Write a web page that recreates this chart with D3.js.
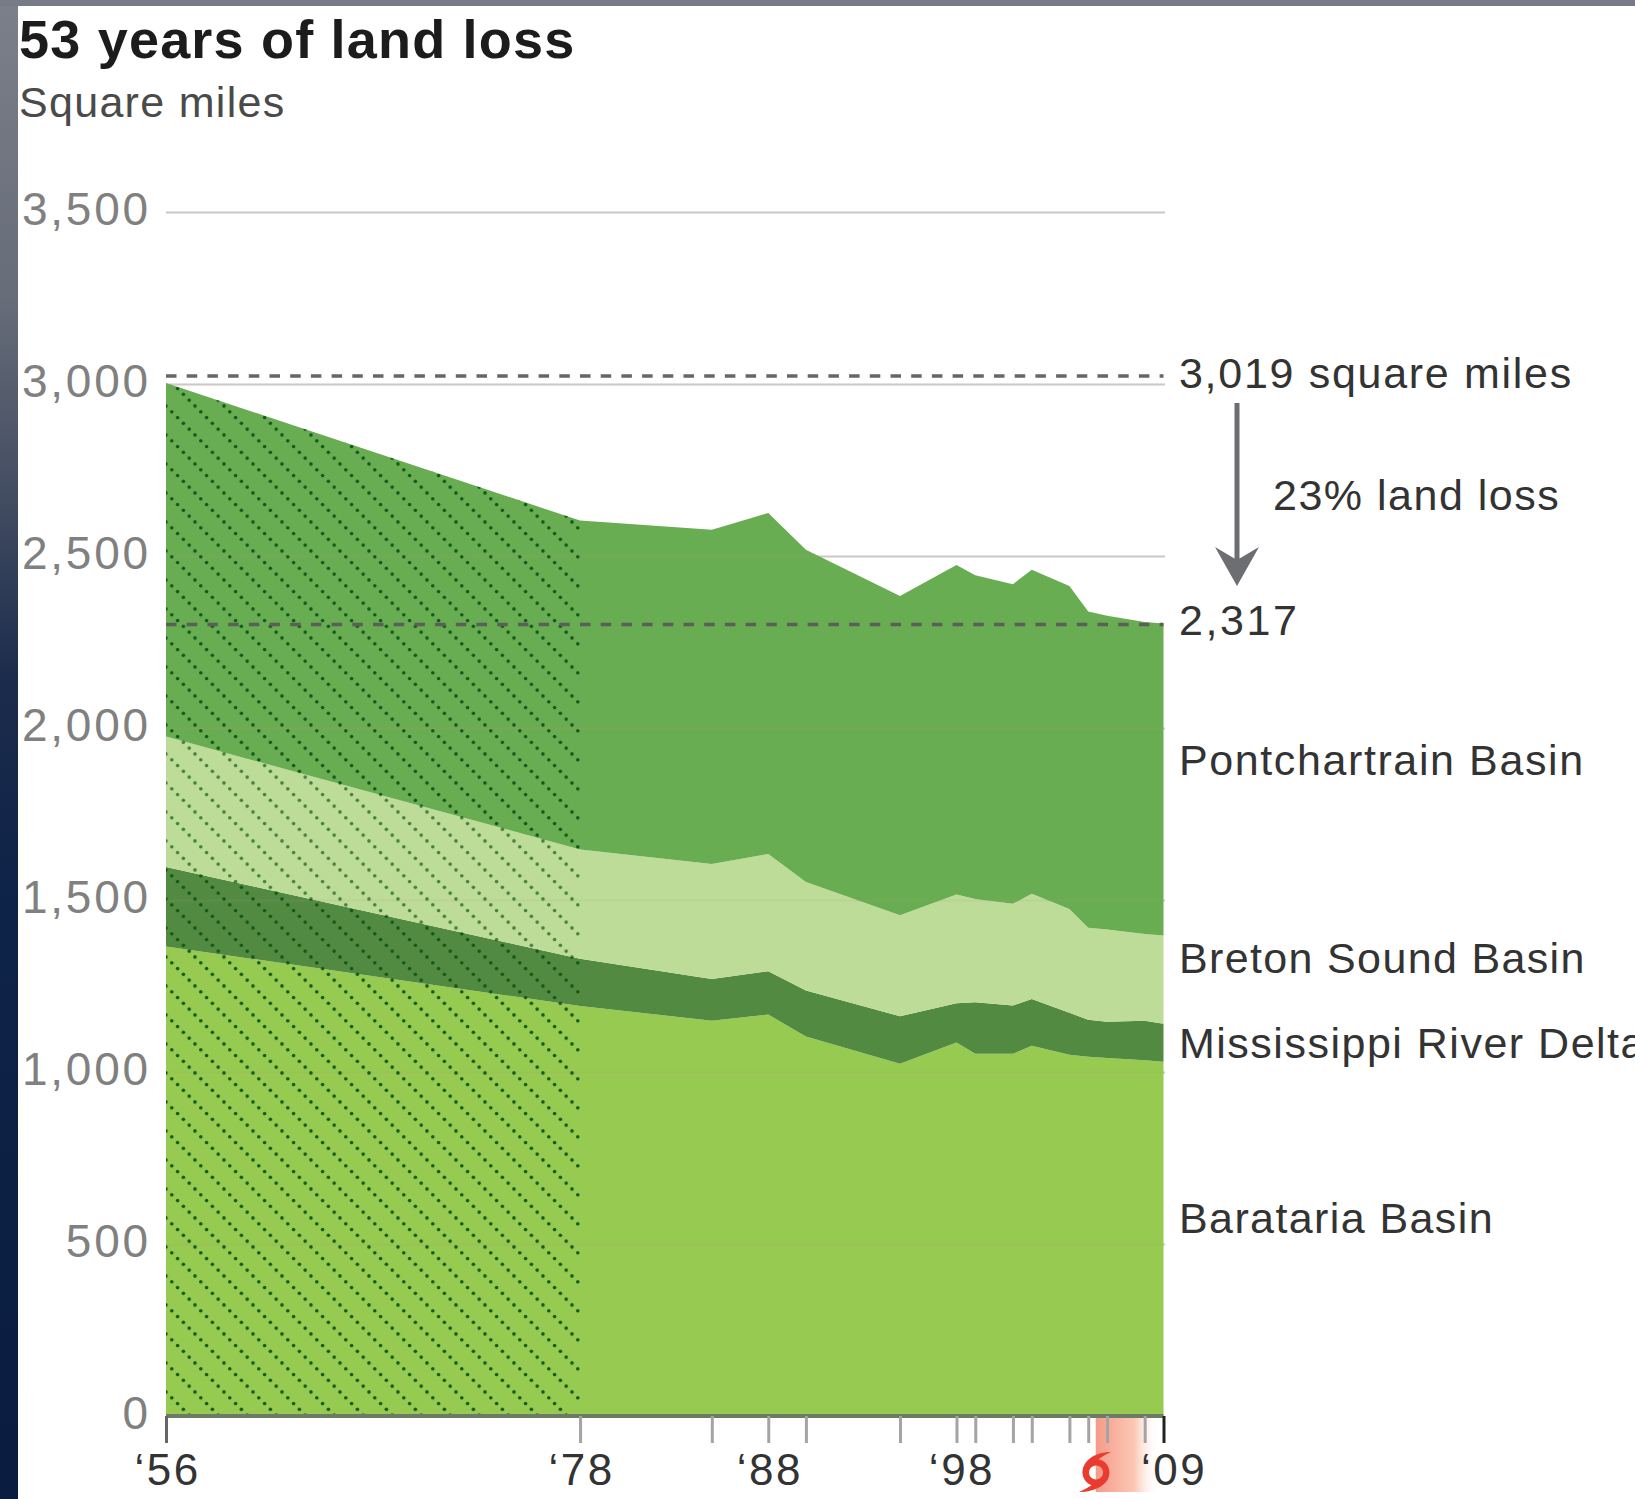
<!DOCTYPE html>
<html><head><meta charset="utf-8">
<script src="https://cdn.jsdelivr.net/npm/d3@7"></script>
<style>
html,body{margin:0;padding:0;background:#fff;overflow:hidden}
svg{display:block}
text{font-family:"Liberation Sans",Arial,sans-serif}
</style></head><body>
<svg id="c" width="1635" height="1499"></svg>
<script>
const years = [1956,1978,1985,1988,1990,1995,1998,1999,2001,2002,2004,2005,2006,2008,2009];
const barataria = [1365,1192,1149,1167,1103,1024,1086,1053,1053,1076,1050,1044,1041,1034,1030];
const mississippi = [231,137,121,126,134,138,114,150,140,136,122,108,105,115,110];
const breton = [379,318,335,341,315,294,316,300,296,306,302,267,268,252,257];
const pontchartrain = [1028,956,971,991,966,928,958,941,929,942,939,920,912,907,907];
const seriesNames = ["Barataria Basin","Mississippi River Delta","Breton Sound Basin","Pontchartrain Basin"];
const seriesColors = ["#96ca50","#538a42","#bddc97","#69ad52"];
const yTicks = [0,500,1000,1500,2000,2500,3000,3500];
const labelledYears = {1956:"‘56",1978:"‘78",1988:"‘88",1998:"‘98",2009:"‘09"};
const referenceValues = [3023,2301];
const hatchEndYear = 1978;
const stormSpan = [2005.4,2008.8];

const svg = d3.select("#c");
const x = d3.scaleLinear().domain([1956,2009]).range([166,1163.5]);
const y = d3.scaleLinear().domain([0,3500]).range([1416,212]);

const rows = years.map((yr,i)=>({year:yr,
  "Barataria Basin":barataria[i],"Mississippi River Delta":mississippi[i],
  "Breton Sound Basin":breton[i],"Pontchartrain Basin":pontchartrain[i]}));
const stacked = d3.stack().keys(seriesNames)(rows);
const area = d3.area().x(d=>x(d.data.year)).y0(d=>y(d[0])).y1(d=>y(d[1]));

const defs = svg.append("defs");
const lg = defs.append("linearGradient").attr("id","strip").attr("x1",0).attr("y1",0).attr("x2",0).attr("y2",1);
[[0,"#7b808a"],[.2,"#666c78"],[.33,"#434d62"],[.45,"#1c2c4c"],[.6,"#0e2348"],[1,"#0a1d40"]]
  .forEach(s=>lg.append("stop").attr("offset",s[0]).attr("stop-color",s[1]));
const lg2 = defs.append("linearGradient").attr("id","storm");
[[0,"#f59a88",1],[.6,"#fbc4b0",.95],[1,"#ffffff",0]]
  .forEach(s=>lg2.append("stop").attr("offset",s[0]).attr("stop-color",s[1]).attr("stop-opacity",s[2]));
function hatch(id,op){
  const p = defs.append("pattern").attr("id",id).attr("patternUnits","userSpaceOnUse")
    .attr("x",163.1).attr("y",751.1).attr("width",29).attr("height",29);
  d3.range(5).forEach(i=>p.append("circle").attr("cx",2.9+5.8*i).attr("cy",2.9+5.8*i)
    .attr("r",1.8).attr("fill","#10581a").attr("opacity",op));
}
hatch("hatchDark",1); hatch("hatchLight",.7);

// slide background edges
svg.append("rect").attr("x",0).attr("y",0).attr("width",18).attr("height",1499).attr("fill","url(#strip)");
svg.append("rect").attr("x",0).attr("y",0).attr("width",1635).attr("height",6).attr("fill","#767b85");

// grid beneath the areas
const gridAxis = d3.axisLeft(y).tickValues(yTicks.filter(d=>d>0)).tickSize(-999).tickFormat("");
const grid = svg.append("g").attr("transform","translate(166,0)").call(gridAxis);
grid.select(".domain").remove();
grid.selectAll("line").attr("stroke","#d2d2d2").attr("stroke-width",2);

// areas
svg.append("g").selectAll("path").data(stacked).join("path")
  .attr("d",area).attr("fill",(d,i)=>seriesColors[i]);

// faint grid showing through
const gridOver = svg.append("g").attr("transform","translate(166,0)").call(gridAxis);
gridOver.select(".domain").remove();
gridOver.selectAll("line").attr("stroke","#b09a80").attr("stroke-width",2).attr("opacity",.14);

// dotted hatch on the estimated years
const hatchIdx = years.filter(v=>v<=hatchEndYear).length;
svg.append("g").selectAll("path").data(stacked).join("path")
  .attr("d",s=>area(s.slice(0,hatchIdx)))
  .attr("fill",(d,i)=>i===2?"url(#hatchLight)":"url(#hatchDark)");

// storm band
svg.append("rect").attr("x",x(stormSpan[0])).attr("y",y(0)+2)
  .attr("width",x(stormSpan[1])-x(stormSpan[0])).attr("height",74).attr("fill","url(#storm)");

// x axis
const xAxis = d3.axisBottom(x).tickValues(years).tickSize(27).tickPadding(9)
  .tickFormat(d=>labelledYears[d]||"");
const gx = svg.append("g").attr("transform",`translate(0,${y(0)})`).call(xAxis);
gx.select(".domain").attr("stroke","#6f7a66").attr("stroke-width",4).attr("d",`M${x(1956)},0H${x(2009)}`);
gx.selectAll(".tick line").attr("stroke",d=>d===1956?"#666":d===2009?"#222":"#a4a4a4").attr("stroke-width",3);
gx.selectAll(".tick text").attr("font-size",44).attr("fill","#333").attr("dy",null)
  .attr("text-anchor","middle")
  .attr("x",d=>d===2009?10:(d===1998?5:1)).attr("y",69)
  .style("letter-spacing","2.5px").style("font-family",'"Liberation Sans"');

// y axis labels
const yAxis = d3.axisLeft(y).tickValues(yTicks).tickSize(0).tickPadding(0).tickFormat(d3.format(","));
const gy = svg.append("g").attr("transform","translate(151,0)").call(yAxis);
gy.select(".domain").remove();
gy.selectAll("text").attr("font-size",46).attr("fill","#808080").attr("dy",null).attr("y",12)
  .style("letter-spacing","2.8px").style("font-family",'"Liberation Sans"');

// reference dashes
svg.append("g").selectAll("line").data(referenceValues).join("line")
  .attr("x1",x(1956)).attr("x2",x(2009)).attr("y1",d=>y(d)).attr("y2",d=>y(d))
  .attr("stroke",(d,i)=>i?"#5a5f5a":"#666").attr("stroke-width",3.5).attr("stroke-dasharray","10.5 10.2");

// arrow
svg.append("line").attr("x1",1237).attr("x2",1237).attr("y1",403).attr("y2",560).attr("stroke","#6d6e71").attr("stroke-width",5);
svg.append("path").attr("d","M1215,547L1237,560L1259,547L1237,586Z").attr("fill","#6d6e71");

// storm icon
const icon = svg.append("g").attr("fill","#e93b30");
icon.append("path").attr("fill-rule","evenodd").attr("d",
 "M1096,1459a13.5,13.5 0 1,1 -0.01,0Z M1096,1465.5a7,7 0 1,0 0.01,0Z");
icon.append("path").attr("d","M1083,1474C1081,1462 1094,1452 1111,1452C1102,1456 1097,1460 1094,1464C1089,1466 1086,1470 1083,1474Z");
icon.append("path").attr("d","M1109,1472C1110,1484 1096,1492 1079,1492C1088,1488 1094,1484 1098,1480C1103,1479 1106,1476 1109,1472Z");

// text
const labels = [
 {t:"53 years of land loss",x:19,y:58,s:54,c:"#1c1c1c",w:"700",ls:1.2},
 {t:"Square miles",x:19,y:117,s:43,c:"#4a4a4a",w:"400",ls:1.3},
 {t:"3,019 square miles",x:1179,y:388,s:43,c:"#333",w:"400",ls:1.7},
 {t:"23% land loss",x:1273,y:510,s:43,c:"#333",w:"400",ls:1.5},
 {t:"2,317",x:1179,y:635,s:43,c:"#333",w:"400",ls:2.6},
 {t:"Pontchartrain Basin",x:1179,y:775,s:43,c:"#333",w:"400",ls:1.6},
 {t:"Breton Sound Basin",x:1179,y:973,s:43,c:"#333",w:"400",ls:1.35},
 {t:"Mississippi River Delta",x:1179,y:1058,s:43,c:"#333",w:"400",ls:1.5},
 {t:"Barataria Basin",x:1179,y:1233,s:43,c:"#333",w:"400",ls:1.4}
];
svg.append("g").selectAll("text").data(labels).join("text")
  .text(d=>d.t).attr("x",d=>d.x).attr("y",d=>d.y).attr("font-size",d=>d.s)
  .attr("fill",d=>d.c).attr("font-weight",d=>d.w).style("letter-spacing",d=>d.ls+"px");
</script>
</body></html>
